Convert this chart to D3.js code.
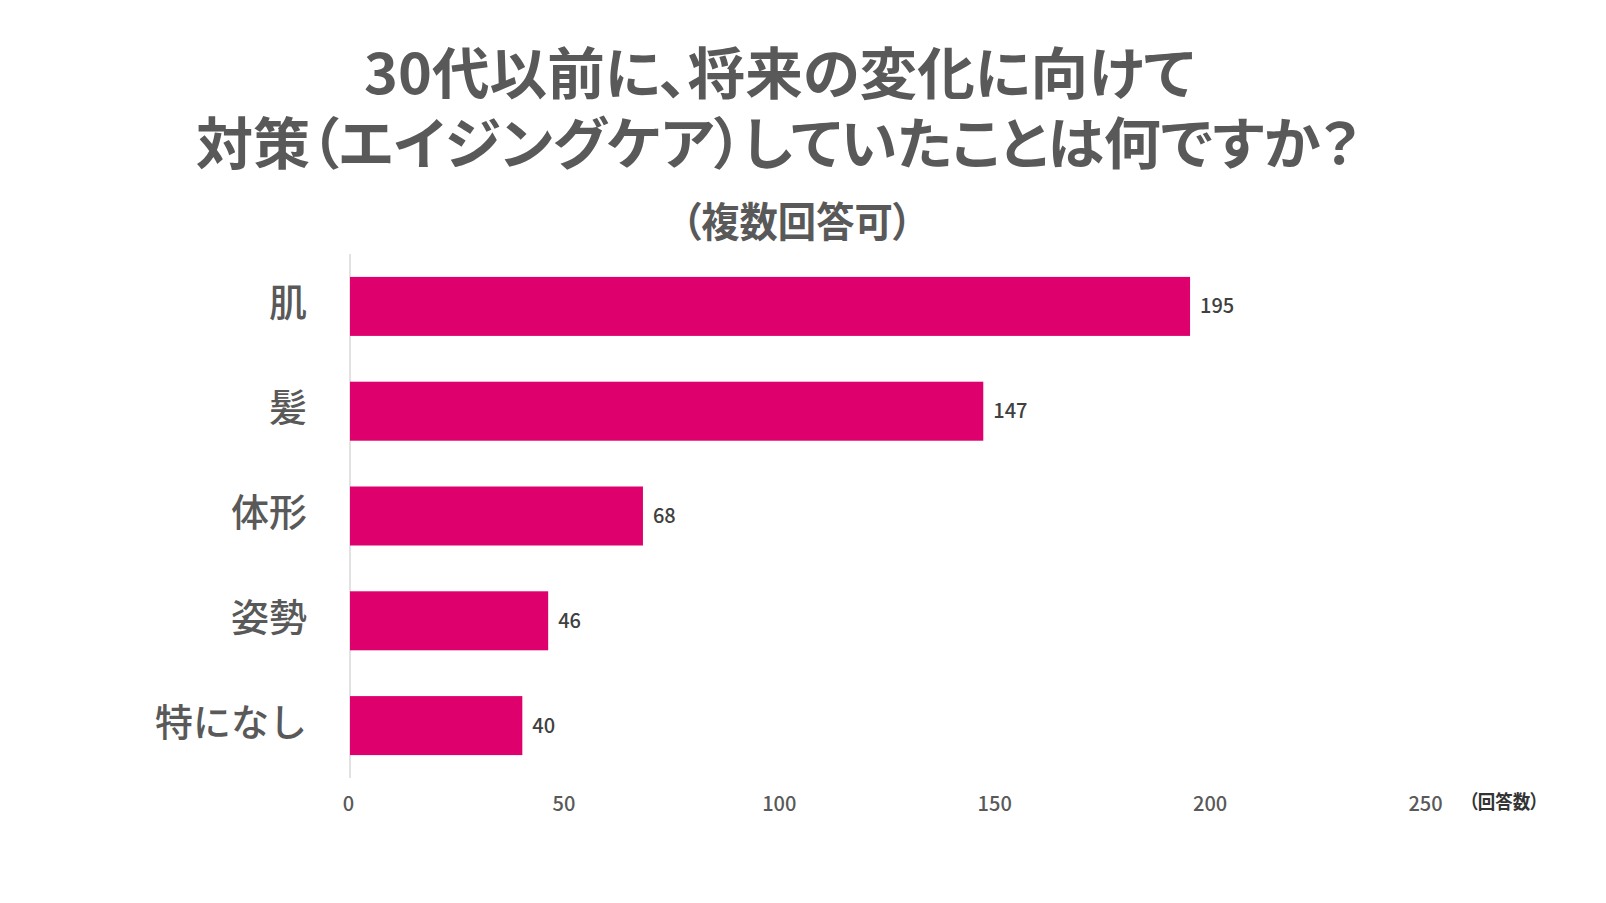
<!DOCTYPE html>
<html>
<head>
<meta charset="utf-8">
<script src="https://cdn.jsdelivr.net/npm/d3@7"></script>
<style>
  html, body { margin: 0; padding: 0; background: #fff; }
  svg { display: block; font-family: "Noto Sans CJK JP", "Noto Sans", sans-serif; }
  .prop { font-feature-settings: "palt"; }
</style>
</head>
<body>
<svg id="chart" width="1606" height="903"></svg>
<script>
// data
var categories = ["肌", "髪", "体形", "姿勢", "特になし"];
var counts = [195, 147, 68, 46, 40];
var tickValues = [0, 50, 100, 150, 200, 250];
var titleLines = ["30代以前に、将来の変化に向けて", "対策（エイジングケア）していたことは何ですか？"];
var subTitle = "（複数回答可）";
var unitLabel = "（回答数）";

var svg = d3.select("#chart");

/** scales */
var x = d3.scaleLinear()
    .domain([0, 250])
    .range([350, 1427]);

var y = d3.scaleBand()
    .domain(categories)
    .range([254, 778])
    .paddingInner(0.437)
    .paddingOuter(0.2185);

// title, two lines squeezed to the measured widths
var titleBox = [{cx: 779, y: 94, w: 830}, {cx: 778, y: 164, w: 1164}];
svg.selectAll("text.title")
    .data(titleLines)
    .enter()
    .append("text")
    .attr("class", "title prop")
    .attr("x", (d, i) => titleBox[i].cx)
    .attr("y", (d, i) => titleBox[i].y)
    .attr("text-anchor", "middle")
    .attr("textLength", (d, i) => titleBox[i].w)
    .attr("lengthAdjust", "spacingAndGlyphs")
    .style("font-size", "56px")
    .style("font-weight", 700)
    .style("fill", "#595959")
    .text(d => d);

svg.append("text")
    .attr("class", "prop")
    .attr("x", 797)
    .attr("y", 237)
    .attr("text-anchor", "middle")
    .attr("textLength", 230)
    .attr("lengthAdjust", "spacingAndGlyphs")
    .style("font-size", "41px")
    .style("font-weight", 700)
    .style("fill", "#595959")
    .text(subTitle);

// vertical axis line
svg.append("line")
    .attr("x1", x(0)).attr("x2", x(0))
    .attr("y1", y.range()[0]).attr("y2", y.range()[1])
    .style("stroke", "#d9d9d9")
    .style("stroke-width", 1.5);

// bars
svg.selectAll("rect.bar")
    .data(counts)
    .enter()
    .append("rect")
    .attr("class", "bar")
    .attr("x", x(0))
    .attr("y", (d, i) => y(categories[i]))
    .attr("width", d => x(d) - x(0))
    .attr("height", y.bandwidth())
    .style("fill", "#dd006d");

// value labels
svg.selectAll("text.value")
    .data(counts)
    .enter()
    .append("text")
    .attr("class", "value")
    .attr("x", d => x(d) + 10)
    .attr("y", (d, i) => y(categories[i]) + y.bandwidth() / 2 + 7)
    .style("font-size", "20px")
    .style("font-weight", 500)
    .style("fill", "#404040")
    .text(d => d);

// category labels
svg.selectAll("text.cat")
    .data(categories)
    .enter()
    .append("text")
    .attr("class", "cat")
    .attr("x", 307)
    .attr("y", d => y(d) + y.bandwidth() / 2 + 10)
    .attr("text-anchor", "end")
    .style("font-size", "38px")
    .style("font-weight", 500)
    .style("fill", "#595959")
    .text(d => d);

// x axis: tick labels only, no line
var xAxis = svg.append("g")
    .attr("transform", "translate(0,790)")
    .call(d3.axisBottom(x).tickValues(tickValues).tickSize(0).tickPadding(0));
xAxis.select(".domain").remove();
xAxis.selectAll("text")
    .attr("x", -2)
    .attr("y", 21)
    .attr("dy", null)
    .style("font-family", "'Noto Sans CJK JP', 'Noto Sans', sans-serif")
    .style("font-size", "20px")
    .style("font-weight", 500)
    .style("fill", "#595959");

svg.append("text")
    .attr("class", "prop")
    .attr("x", 1504)
    .attr("y", 809)
    .attr("text-anchor", "middle")
    .attr("textLength", 70)
    .attr("lengthAdjust", "spacingAndGlyphs")
    .style("font-size", "19px")
    .style("font-weight", 700)
    .style("fill", "#333")
    .text(unitLabel);
</script>
</body>
</html>
